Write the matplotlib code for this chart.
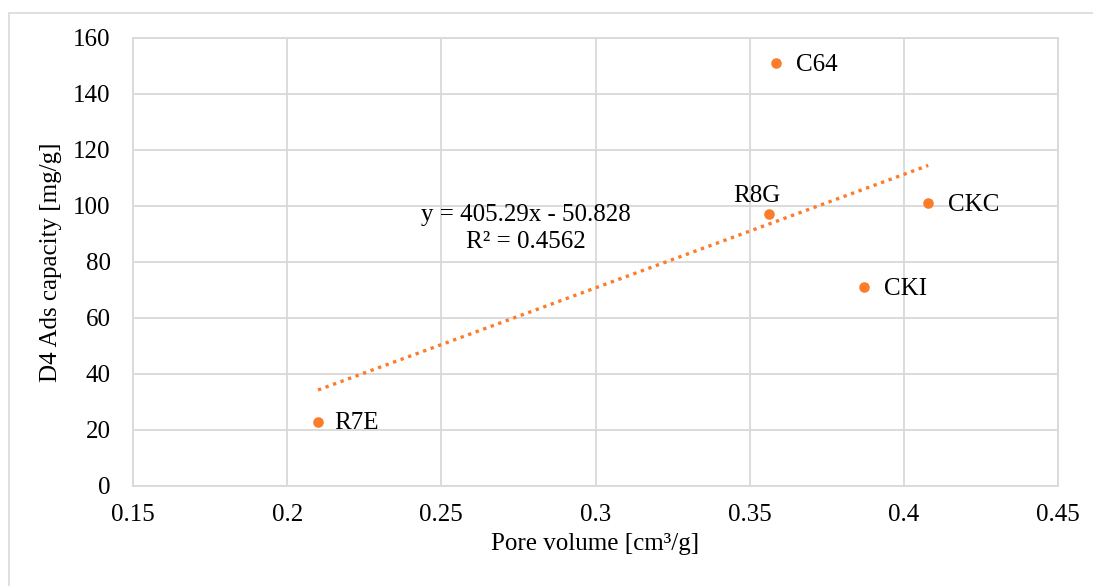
import matplotlib
matplotlib.use("Agg")
import matplotlib.pyplot as plt
from matplotlib.patches import Rectangle
import numpy as np

# sample data
samples = ["R7E", "R8G", "C64", "CKI", "CKC"]
pore_volume = [0.210, 0.3563, 0.3586, 0.3872, 0.4079]
d4_capacity = [23, 97, 151, 71, 101]

# Excel linear trendline as printed on the chart
slope, intercept = 405.29, -50.828
r_squared = 0.4562

x_ticks = [0.15, 0.2, 0.25, 0.3, 0.35, 0.4, 0.45]
x_tick_labels = ["0.15", "0.2", "0.25", "0.3", "0.35", "0.4", "0.45"]
y_ticks = [0, 20, 40, 60, 80, 100, 120, 140, 160]

orange = "#FB7C2B"
grid_gray = "#D9D9D9"
fs = 18

plt.rcParams["font.family"] = ["Liberation Serif", "DejaVu Serif"]

fig = plt.figure(figsize=(10.93, 5.86), dpi=100)
fig.patches.append(Rectangle((9 / 1093, -0.1), 1.2, 1.1 - 13 / 586,
                             transform=fig.transFigure, fill=False,
                             edgecolor=grid_gray, lw=1.2))
ax = fig.add_axes([133 / 1093, 1 - 486 / 586, 925 / 1093, 448 / 586])

# trendline across the data range
xs = np.array([min(pore_volume), max(pore_volume)])
ax.plot(xs, slope * xs + intercept, color=orange, lw=2.4,
        linestyle=(0, (1, 1.4)), zorder=2)

ax.scatter(pore_volume, d4_capacity, s=58, color=orange, zorder=3, linewidths=0)

label_offsets = {
    "R7E": (12, -1, "left", "center"),
    "R8G": (-9, 5, "center", "bottom"),
    "C64": (14, -1, "left", "center"),
    "CKI": (14, -1, "left", "center"),
    "CKC": (14, -1, "left", "center"),
}
for name, x, y in zip(samples, pore_volume, d4_capacity):
    dx, dy, ha, va = label_offsets[name]
    ax.annotate(name, (x, y), xytext=(dx, dy), textcoords="offset points",
                ha=ha, va=va, fontsize=fs)

ax.text(0.2775, 92.0, f"y = {slope}x - {abs(intercept)}\nR\u00b2 = {r_squared}",
        ha="center", va="center", fontsize=fs, linespacing=1.3)

ax.set_xlim(0.15, 0.45)
ax.set_ylim(0, 160)
ax.set_xticks(x_ticks)
ax.set_xticklabels(x_tick_labels)
ax.set_yticks(y_ticks)
ax.tick_params(length=0, labelsize=fs, colors="black")
ax.tick_params(axis="y", pad=16)
ax.tick_params(axis="x", pad=13)
ax.grid(True, color=grid_gray, lw=1.3)
ax.set_axisbelow(True)
for sp in ax.spines.values():
    sp.set_color(grid_gray)
    sp.set_linewidth(1.3)

ax.set_xlabel("Pore volume [cm\u00b3/g]", fontsize=fs, labelpad=5)
ax.set_ylabel("D4 Ads capacity [mg/g]", fontsize=fs, labelpad=8)

fig.savefig("out.png", dpi=100)
